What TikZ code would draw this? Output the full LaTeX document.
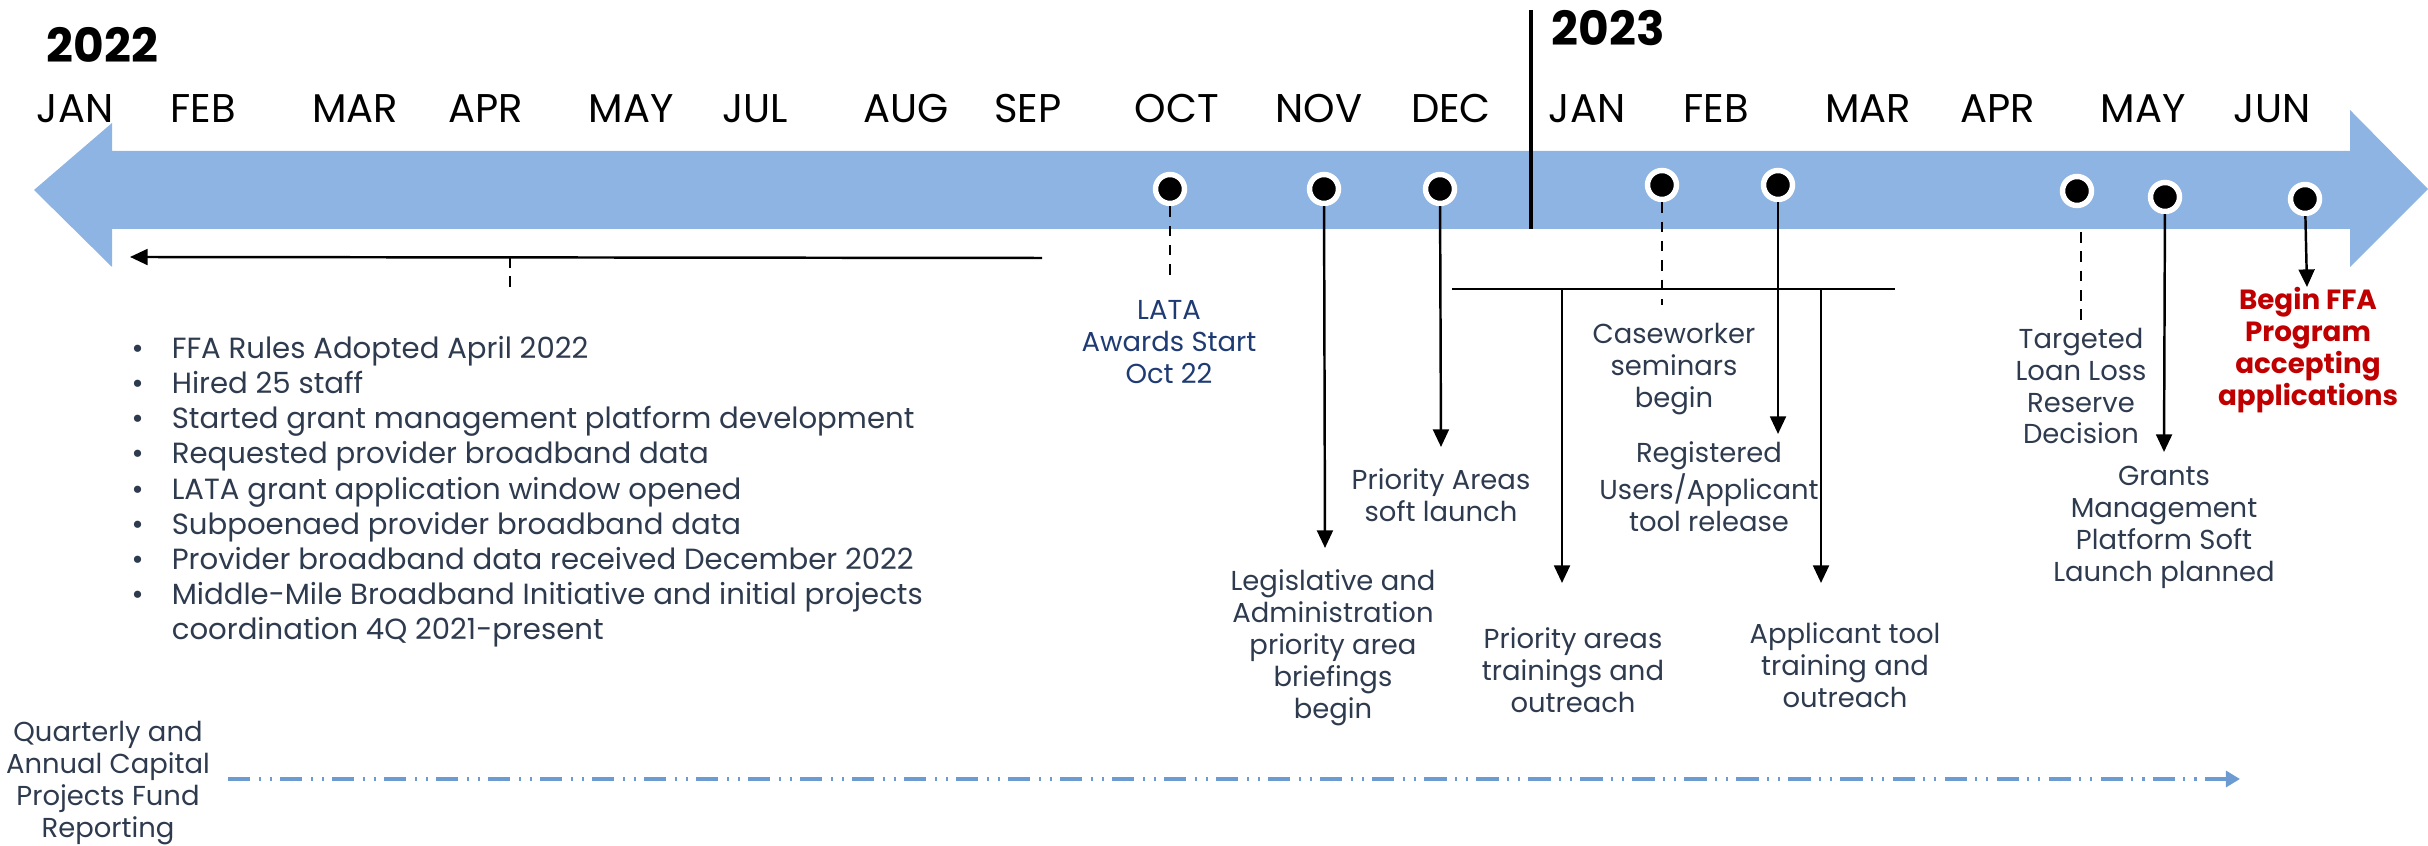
\documentclass[tikz,border=0pt]{standalone}
\usepackage{fontspec}
\setmainfont{Poppins}
\usetikzlibrary{arrows.meta}

\definecolor{band}{HTML}{8EB4E3}
\definecolor{slate}{HTML}{2E3A4E}
\definecolor{navy}{HTML}{1F3B73}
\definecolor{ffared}{HTML}{C00000}
\definecolor{report}{HTML}{6C9BD2}

\begin{document}
\begin{tikzpicture}[x=0.1mm, y=-0.1mm]
  \tikzstyle{dot}=[circle,fill=black,draw=white,line width=1.55pt,minimum size=8.25pt,inner sep=0pt]
  \tikzstyle{month}=[anchor=base,inner sep=0pt,font=\fontsize{11.4}{12}\selectfont]
  \tikzstyle{year}=[anchor=base west,inner sep=0pt,font=\fontsize{13.4}{14}\selectfont\bfseries]
  \tikzstyle{note}=[align=center,inner sep=0pt,text=slate,font=\fontsize{7.8}{9.1}\selectfont]
  \tikzstyle{pointer}=[-{Triangle[width=4.5pt,length=5pt]},line width=0.7pt]
  \tikzstyle{stub}=[line width=0.7pt,dash pattern=on 3pt off 2.5pt]

  \useasboundingbox (0,0) rectangle (2428,846);

  \fill[band] (34,190) -- (112,123) -- (112,151) -- (2350,151) -- (2350,110)
    -- (2428,189) -- (2350,267) -- (2350,229) -- (112,229) -- (112,267) -- cycle;

  \draw[line width=1pt] (1531,10) -- (1531,229);

  \node[year] (y22) at (46,63) {2022};
  \node[year] (y23) at (1551,46) {2023};

  \node[month] (m1) at (75,123) {JAN};
  \node[month] (m2) at (203,123) {FEB};
  \node[month] (m3) at (355,123) {MAR};
  \node[month] (m4) at (486,123) {APR};
  \node[month] (m5) at (631,123) {MAY};
  \node[month] (m7) at (755,123) {JUL};
  \node[month] (m8) at (906,123) {AUG};
  \node[month] (m9) at (1028,123) {SEP};
  \node[month] (m10) at (1177,123) {OCT};
  \node[month] (m11) at (1319,123) {NOV};
  \node[month] (m12) at (1451,123) {DEC};
  \node[month] (n1) at (1587,123) {JAN};
  \node[month] (n2) at (1716,123) {FEB};
  \node[month] (n3) at (1868,123) {MAR};
  \node[month] (n4) at (1998,123) {APR};
  \node[month] (n5) at (2143,123) {MAY};
  \node[month] (n6) at (2272,123) {JUN};

  \node[dot] (oct) at (1170,189) {};
  \node[dot] (nov) at (1324,189) {};
  \node[dot] (dec) at (1440,189) {};
  \node[dot] (jan) at (1662,185) {};
  \node[dot] (feb) at (1778,185) {};
  \node[dot] (apr) at (2077,191) {};
  \node[dot] (may) at (2165,197) {};
  \node[dot] (jun) at (2305,199) {};

  \coordinate (pastend) at (130,257);
  \coordinate (paststart) at (1042,258);
  \coordinate (pasttap) at (510,257);
  \coordinate (pastdrop) at (510,293);

  \draw[pointer] (paststart) -- (pastend);
  \draw[stub] (pasttap) -- (pastdrop);

  \node[anchor=west,inner sep=0pt,text=slate,font=\fontsize{8.3}{10}\selectfont] (done) at (131,492)
    {\begin{tabular}{@{}l@{\hspace{8pt}}l@{}}
      \textbullet & FFA Rules Adopted April 2022\\
      \textbullet & Hired 25 staff\\
      \textbullet & Started grant management platform development\\
      \textbullet & Requested provider broadband data\\
      \textbullet & LATA grant application window opened\\
      \textbullet & Subpoenaed provider broadband data\\
      \textbullet & Provider broadband data received December 2022\\
      \textbullet & Middle-Mile Broadband Initiative and initial projects\\
                  & coordination 4Q 2021-present
    \end{tabular}};

  \coordinate (octend) at (1170,278);
  \draw[stub] (oct) -- (octend);
  \node[note,text=navy] (lata) at (1169,342) {LATA\\Awards Start\\Oct 22};

  \coordinate (novend) at (1325,548);
  \draw[pointer] (nov) -- (novend);
  \node[note] (legis) at (1333,648) {Legislative and\\Administration\\priority area\\briefings\\begin};

  \coordinate (decend) at (1441,447);
  \draw[pointer] (dec) -- (decend);
  \node[note] (soft) at (1441,495) {Priority Areas\\soft launch};

  \coordinate (bracketl) at (1452,289);
  \coordinate (bracketr) at (1895,289);
  \coordinate (tapl) at (1562,289);
  \coordinate (tapr) at (1821,289);
  \coordinate (tapldrop) at (1562,583);
  \coordinate (taprdrop) at (1821,583);
  \draw[line width=0.7pt] (bracketl) -- (bracketr);
  \draw[pointer] (tapl) -- (tapldrop);
  \draw[pointer] (tapr) -- (taprdrop);
  \node[note] (train) at (1573,670) {Priority areas\\trainings and\\outreach};
  \node[note] (tooltrain) at (1845,665) {Applicant tool\\training and\\outreach};

  \coordinate (janend) at (1662,305);
  \draw[stub] (jan) -- (janend);
  \node[note] (seminar) at (1674,369) {Caseworker\\seminars\\begin};

  \coordinate (febend) at (1778,434);
  \draw[pointer] (feb) -- (febend);
  \node[note] (tool) at (1709,487) {Registered\\Users/Applicant\\tool release};

  \coordinate (aprtop) at (2081,232);
  \coordinate (aprend) at (2081,325);
  \draw[stub] (aprtop) -- (aprend);
  \node[note] (loan) at (2081,386) {Targeted\\Loan Loss\\Reserve\\Decision};

  \coordinate (mayend) at (2164,452);
  \draw[pointer] (may) -- (mayend);
  \node[note] (grants) at (2164,527) {Grants\\Management\\Platform Soft\\Launch planned};

  \coordinate (junend) at (2307,287);
  \draw[pointer] (jun) -- (junend);
  \node[note,text=ffared,font=\fontsize{7.9}{9.1}\selectfont\bfseries] (ffa) at (2308,350)
    {Begin FFA\\Program\\accepting\\applications};

  \node[note] (capital) at (108,783) {Quarterly and\\Annual Capital\\Projects Fund\\Reporting};
  \coordinate (repstart) at (228,779);
  \coordinate (repend) at (2240,779);
  \draw[report,line width=1pt,-{Triangle[width=4.5pt,length=4pt]},
    dash pattern=on 6.3pt off 2.4pt on 0.6pt off 2.6pt on 0.6pt off 2.3pt]
    (repstart) -- (repend);

\end{tikzpicture}
\end{document}
